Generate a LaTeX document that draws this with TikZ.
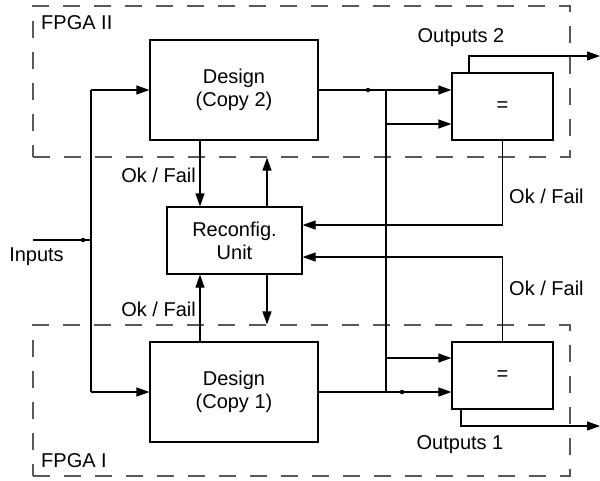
\documentclass[tikz,border=0pt]{standalone}
\usepackage{fontspec}
\setmainfont{Liberation Sans}
\usetikzlibrary{arrows.meta}
\begin{document}
\begin{tikzpicture}[x=1pt,y=-1pt,
  font=\fontsize{20}{23}\selectfont,
  block/.style={draw=black, line width=1.2pt, inner sep=0pt, align=center},
  frame/.style={draw=black!65, line width=1.2pt, dash pattern=on 17pt off 14pt, inner sep=0pt},
  wire/.style={draw=black, line width=1.2pt},
  arr/.style={wire, -{Triangle[length=13pt,width=9pt]}},
  lbl/.style={inner sep=0pt},
  junction/.style={circle, fill=black, inner sep=0pt, minimum size=4.5pt}]
\useasboundingbox (0,0) rectangle (600,480);

% FPGA regions
\node[frame, minimum width=537pt, minimum height=151pt] (f2) at (301.5,81.5) {};
\node[frame, minimum width=537pt, minimum height=151pt] (f1) at (301.5,400.5) {};
\node[lbl, anchor=west] (f2lbl) at (41,23) {FPGA II};
\node[lbl, anchor=west] (f1lbl) at (41,461) {FPGA I};

% blocks
\node[block, minimum width=168pt, minimum height=100pt] (d2) at (234,90) {Design\\(Copy 2)};
\node[block, minimum width=168pt, minimum height=100pt] (d1) at (234,392) {Design\\(Copy 1)};
\node[block, minimum width=135pt, minimum height=67pt] (rc) at (234.5,240.5) {Reconfig.\\Unit};
\node[block, minimum width=101pt, minimum height=67pt] (e2) at (502.5,106.5) {=};
\node[block, minimum width=101pt, minimum height=67pt] (e1) at (502.5,375.5) {=};

% inputs
\coordinate (in) at (33,240);
\coordinate (ib) at (91,240);
\node[lbl] (inlbl) at (36.5,257) {Inputs};
\draw[wire] (in) -- (ib);
\node[junction] (jin) at (83,240) {};
\draw[wire] (ib |- d2.west) -- (ib |- d1.west);
\draw[arr] (ib |- d2.west) -- (d2.west);
\draw[arr] (ib |- d1.west) -- (d1.west);

% design outputs to comparators
\coordinate (bus) at (386,0);
\draw[arr] (d2.east) -- (d2.east -| e2.west);
\draw[arr] (d1.east) -- (d1.east -| e1.west);
\node[junction] (j2) at (368,90) {};
\node[junction] (j1) at (402,392) {};
\draw[wire] (bus |- d2.east) -- (bus |- d1.east);
\draw[arr] (386,124) -- (e2.west |- {(0,124)});
\draw[arr] (386,358) -- (e1.west |- {(0,358)});

% comparator outputs
\coordinate (o2) at (600,56);
\coordinate (o1) at (600,426);
\draw[arr] (e2.north -| {(469,0)}) |- (o2);
\draw[arr] (e1.south -| {(461,0)}) |- (o1);
\node[lbl] (o2lbl) at (461,38) {Outputs 2};
\node[lbl] (o1lbl) at (460,445) {Outputs 1};

% Ok / Fail feedback from comparators
\draw[arr] (e2.south) |- (rc.east |- {(0,225)});
\draw[arr] (e1.north) |- (rc.east |- {(0,257)});
\node[lbl, anchor=west] (okr2) at (509,196) {Ok / Fail};
\node[lbl, anchor=west] (okr1) at (509,288) {Ok / Fail};

% Ok / Fail from designs, control to designs
\draw[arr] (d2.south -| {(200,0)}) -- (rc.north -| {(200,0)});
\draw[arr] (d1.north -| {(200,0)}) -- (rc.south -| {(200,0)});
\draw[arr] (rc.north -| {(267,0)}) -- (f2.south -| {(267,0)});
\draw[arr] (rc.south -| {(267,0)}) -- (f1.north -| {(267,0)});
\node[lbl, anchor=east] (okl2) at (196,175) {Ok / Fail};
\node[lbl, anchor=east] (okl1) at (196,309) {Ok / Fail};
\end{tikzpicture}
\end{document}
